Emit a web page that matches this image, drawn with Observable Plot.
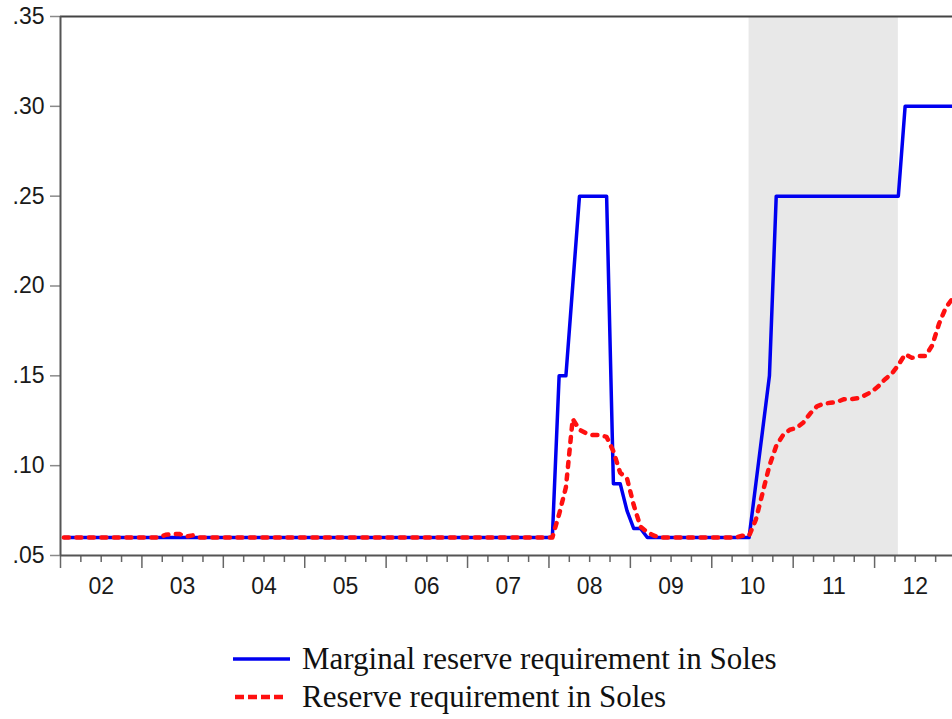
<!DOCTYPE html>
<html>
<head>
<meta charset="utf-8">
<script src="https://cdn.jsdelivr.net/npm/d3@7"></script>
<script src="https://cdn.jsdelivr.net/npm/@observablehq/plot@0.6"></script>
<style>
  html, body { margin: 0; padding: 0; background: #ffffff; }
  #wrap { position: relative; width: 952px; height: 719px; overflow: hidden; }
  .leg { position: absolute; display: flex; align-items: center; height: 34px; line-height: 34px;
         font-family: "Liberation Serif", "Times New Roman", serif; font-size: 31px; color: #111; white-space: nowrap; }
  .leg svg { margin-right: 12px; flex: none; }
</style>
</head>
<body>
<div id="wrap">
  <div id="chart"></div>
  <div class="leg" style="left:233px; top:642px;">
    <svg width="57" height="10"><line x1="0" x2="57" y1="5" y2="5" stroke="#0000f0" stroke-width="3.5"/></svg>
    <span>Marginal reserve requirement in Soles</span>
  </div>
  <div class="leg" style="left:233px; top:680px;">
    <svg width="57" height="10"><line x1="2" x2="52" y1="5" y2="5" stroke="#ff1010" stroke-width="4.5" stroke-dasharray="9,4"/></svg>
    <span>Reserve requirement in Soles</span>
  </div>
</div>
<script>
// Monthly data, Jan 2002 .. Dec 2012 (one row per year)
const startYear = 2002;
const marginalRR = [
  0.06,0.06,0.06,0.06,0.06,0.06,0.06,0.06,0.06,0.06,0.06,0.06,        // 2002
  0.06,0.06,0.06,0.06,0.06,0.06,0.06,0.06,0.06,0.06,0.06,0.06,        // 2003
  0.06,0.06,0.06,0.06,0.06,0.06,0.06,0.06,0.06,0.06,0.06,0.06,        // 2004
  0.06,0.06,0.06,0.06,0.06,0.06,0.06,0.06,0.06,0.06,0.06,0.06,        // 2005
  0.06,0.06,0.06,0.06,0.06,0.06,0.06,0.06,0.06,0.06,0.06,0.06,        // 2006
  0.06,0.06,0.06,0.06,0.06,0.06,0.06,0.06,0.06,0.06,0.06,0.06,        // 2007
  0.06,0.15,0.15,0.20,0.25,0.25,0.25,0.25,0.25,0.09,0.09,0.075,       // 2008
  0.065,0.065,0.06,0.06,0.06,0.06,0.06,0.06,0.06,0.06,0.06,0.06,      // 2009
  0.06,0.06,0.06,0.06,0.06,0.06,0.09,0.12,0.15,0.25,0.25,0.25,        // 2010
  0.25,0.25,0.25,0.25,0.25,0.25,0.25,0.25,0.25,0.25,0.25,0.25,        // 2011
  0.25,0.25,0.25,0.25,0.30,0.30,0.30,0.30,0.30,0.30,0.30,0.30         // 2012
];
const averageRR = [
  0.06,0.06,0.06,0.06,0.06,0.06,0.06,0.06,0.06,0.06,0.06,0.06,                 // 2002
  0.06,0.06,0.06,0.0615,0.062,0.062,0.0605,0.0612,0.06,0.06,0.06,0.06,         // 2003
  0.06,0.06,0.06,0.06,0.06,0.06,0.06,0.06,0.06,0.06,0.06,0.06,                 // 2004
  0.06,0.06,0.06,0.06,0.06,0.06,0.06,0.06,0.06,0.06,0.06,0.06,                 // 2005
  0.06,0.06,0.06,0.06,0.06,0.06,0.06,0.06,0.06,0.06,0.06,0.06,                 // 2006
  0.06,0.06,0.06,0.06,0.06,0.06,0.06,0.06,0.06,0.06,0.06,0.06,                 // 2007
  0.06,0.073,0.088,0.126,0.12,0.118,0.117,0.117,0.116,0.108,0.096,0.093,       // 2008
  0.078,0.066,0.063,0.061,0.06,0.06,0.06,0.06,0.06,0.06,0.06,0.06,             // 2009
  0.06,0.06,0.06,0.06,0.061,0.061,0.07,0.085,0.10,0.111,0.117,0.12,            // 2010
  0.121,0.124,0.129,0.133,0.1345,0.135,0.1355,0.137,0.137,0.1375,0.139,0.141,  // 2011
  0.144,0.148,0.151,0.156,0.162,0.160,0.161,0.161,0.167,0.179,0.188,0.193      // 2012
];
const yTicks = [0.05, 0.10, 0.15, 0.20, 0.25, 0.30, 0.35];
const xYears = [2002, 2003, 2004, 2005, 2006, 2007, 2008, 2009, 2010, 2011, 2012];
const xLabels = ["02", "03", "04", "05", "06", "07", "08", "09", "10", "11", "12"];
const shadeStart = 2010.458; // mid-June 2010
const shadeEnd = 2012.292;   // mid-April 2012

const monthX = i => startYear + Math.floor(i / 12) + ((i % 12) + 0.5) / 12;
const blue = marginalRR.map((v, i) => ({x: monthX(i), y: v}));
const red = averageRR.map((v, i) => ({x: monthX(i), y: v}));
const quarterTicks = xYears.flatMap(y => [y + 0.25, y + 0.5, y + 0.75]);
const labelPos = xYears.map(y => y + 0.5);
const fmtY = d => d3.format(".2f")(d).replace(/^0/, "");

const chart = Plot.plot({
  width: 952,
  height: 620,
  marginLeft: 60,
  marginRight: 0,
  marginTop: 16,
  marginBottom: 65,
  x: {domain: [2002, 2012.957]},
  y: {domain: [0.05, 0.35]},
  style: {fontFamily: "'Liberation Sans', Arial, sans-serif", fontSize: "23px", background: "white"},
  marks: [
    Plot.rect([{a: shadeStart, b: shadeEnd}], {x1: "a", x2: "b", fill: "#e8e8e8"}),
    Plot.axisY({ticks: yTicks, tickSize: 10, tickPadding: 6, tickFormat: fmtY, stroke: "#8a8a8a", strokeWidth: 1.5, fill: "#1a1a1a", fontSize: 23, label: null}),
    Plot.axisX({ticks: quarterTicks, tickSize: 7, tickFormat: () => "", stroke: "#666", strokeWidth: 1.5, label: null}),
    Plot.axisX({ticks: xYears, tickSize: 13, tickFormat: () => "", stroke: "#666", strokeWidth: 1.5, label: null}),
    Plot.axisX({ticks: labelPos, tickSize: 0, tickPadding: 22, tickFormat: (d, i) => xLabels[i], fill: "#1a1a1a", fontSize: 23, label: null}),
    Plot.ruleY([0.35], {stroke: "#444", strokeWidth: 2}),
    Plot.ruleY([0.05], {stroke: "#555", strokeWidth: 2}),
    Plot.ruleX([2002], {stroke: "#555", strokeWidth: 2}),
    Plot.line(blue, {x: "x", y: "y", stroke: "#0000f0", strokeWidth: 3.5}),
    Plot.line(red, {x: "x", y: "y", stroke: "#ff1010", strokeWidth: 4.5, strokeDasharray: "5,7.5", strokeLinecap: "round"})
  ]
});
document.getElementById("chart").appendChild(chart);
</script>
</body>
</html>
